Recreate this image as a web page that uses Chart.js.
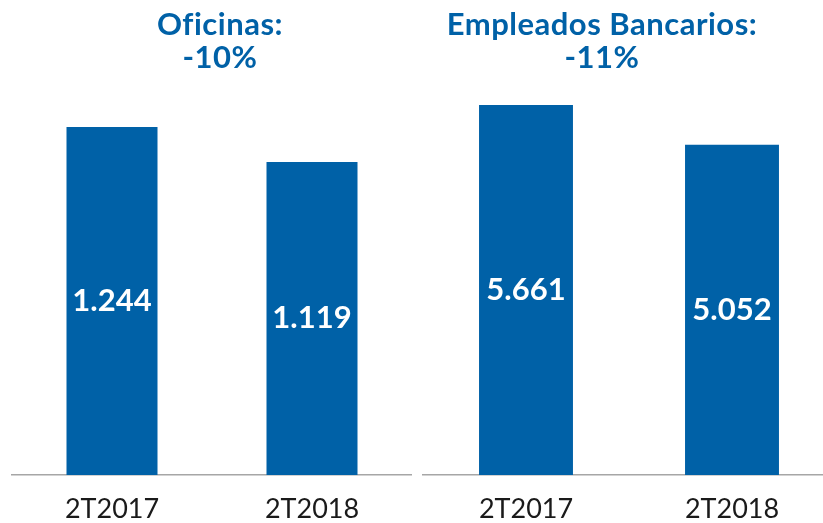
<!DOCTYPE html>
<html><head><meta charset="utf-8">
<script src="https://cdn.jsdelivr.net/npm/chart.js@4.4.1/dist/chart.umd.min.js"></script>
<style>
html,body{margin:0;padding:0;background:#fff;overflow:hidden;}
#wrap{position:relative;width:823px;height:523px;overflow:hidden;}
.c{position:absolute;top:0;height:544px;}
#c1{left:0;width:412px;}
#c2{left:412px;width:423px;}
.t{position:absolute;top:7px;width:400px;text-align:center;color:#0061A7;font-family:Lato,sans-serif;font-weight:bold;font-size:31px;line-height:33px;letter-spacing:0.5px;white-space:nowrap;}
#t1{left:20px;}
#t2{left:402px;}
</style></head>
<body><div id="wrap">
<div class="c" id="c1"><canvas id="a"></canvas></div>
<div class="c" id="c2"><canvas id="b"></canvas></div>
<div class="t" id="t1"></div>
<div class="t" id="t2"></div>
</div>
<script>
const categories = ['2T2017', '2T2018'];
const oficinas = [1244, 1119];
const empleados = [5661, 5052];
const oficinasLabels = ['1.244', '1.119'];
const empleadosLabels = ['5.661', '5.052'];
const titleOficinas = ['Oficinas:', '-10%'];
const titleEmpleados = ['Empleados Bancarios:', '-11%'];

document.getElementById('t1').innerHTML = titleOficinas.join('<br>');
document.getElementById('t2').innerHTML = titleEmpleados.join('<br>');

const BLUE = '#0061A7';
const FONT = 'Lato';

const valueLabels = {
  id: 'valueLabels',
  afterDatasetsDraw(chart, args, opts) {
    const ctx = chart.ctx;
    const meta = chart.getDatasetMeta(0);
    ctx.save();
    ctx.fillStyle = '#ffffff';
    ctx.font = 'bold 31px ' + FONT;
    ctx.textAlign = 'center';
    ctx.textBaseline = 'middle';
    meta.data.forEach((bar, i) => {
      const cy = (bar.y + bar.base) / 2;
      ctx.fillText(opts.labels[i], bar.x, cy);
    });
    ctx.restore();
  }
};

function make(id, data, labels, max, padL, barPct) {
  new Chart(document.getElementById(id), {
    type: 'bar',
    data: { labels: categories, datasets: [{ data: data, backgroundColor: BLUE, barPercentage: barPct, categoryPercentage: 1.0 }] },
    options: {
      responsive: true, maintainAspectRatio: false, animation: false,
      layout: { padding: { left: padL, right: 0, top: 100, bottom: 0 } },
      plugins: {
        legend: { display: false }, tooltip: { enabled: false }, title: { display: false },
        valueLabels: { labels: labels }
      },
      scales: {
        x: {
          grid: { display: false, drawTicks: false },
          border: { display: true, color: '#A6A6A6', width: 1.5 },
          ticks: { color: '#1a1a1a', font: { family: FONT, size: 27, lineHeight: 1.0 }, padding: 21 }
        },
        y: { display: false, min: 0, max: max }
      }
    },
    plugins: [valueLabels]
  });
}
make('a', oficinas, oficinasLabels, 1340.5, 12, 0.455);
make('b', empleados, empleadosLabels, 5737.5, 11, 0.456);
</script>
</body></html>
